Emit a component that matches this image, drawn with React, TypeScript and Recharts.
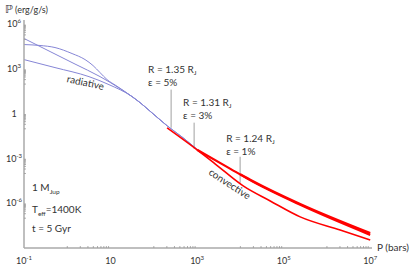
import React from "react";
import { LineChart, Line, XAxis, YAxis, ReferenceLine, ReferenceDot } from "recharts";

// P in bars, heating rate ℙ in erg/g/s
const radiative135 = [
  { p: 0.1, v: 1.15e5 },
  { p: 0.4, v: 1.53e4 },
  { p: 1.51, v: 2.21e3 },
  { p: 5.71, v: 318 },
  { p: 16.6, v: 49.7 },
  { p: 48.1, v: 5.7 },
  { p: 81.8, v: 1.52 },
  { p: 202, v: 0.161 },
];
const radiative131 = [
  { p: 0.1, v: 4.5e4 },
  { p: 0.234, v: 3.9e4 },
  { p: 0.52, v: 2.84e4 },
  { p: 1.29, v: 1.12e4 },
  { p: 2.57, v: 4.43e3 },
  { p: 3.94, v: 1.75e3 },
  { p: 5.71, v: 592 },
  { p: 8.3, v: 200 },
  { p: 13.4, v: 79 },
  { p: 31.4, v: 14.5 },
  { p: 48.1, v: 5.7 },
  { p: 81.8, v: 1.52 },
  { p: 202, v: 0.161 },
  { p: 474, v: 0.025 },
  { p: 1000, v: 4.2e-3 },
];
const radiative124 = [
  { p: 0.1, v: 4.4e3 },
  { p: 0.52, v: 1.28e3 },
  { p: 3.18, v: 316 },
  { p: 9.2, v: 92 },
  { p: 31.4, v: 14.5 },
  { p: 48.1, v: 5.7 },
  { p: 81.8, v: 1.52 },
  { p: 202, v: 0.161 },
  { p: 474, v: 0.025 },
  { p: 1000, v: 4.2e-3 },
  { p: 4.9e3, v: 2.8e-4 },
  { p: 9.9e3, v: 8.9e-5 },
];
const convective135 = [
  { p: 202, v: 0.117 },
  { p: 1000, v: 3.9e-3 },
  { p: 2.6e3, v: 4.5e-4 },
  { p: 1.16e4, v: 1.48e-5 },
  { p: 4.9e4, v: 1.44e-6 },
  { p: 2.41e5, v: 1.23e-7 },
  { p: 2.02e6, v: 1.62e-8 },
  { p: 1e7, v: 3.5e-9 },
];
const convective131 = [
  { p: 1000, v: 3.9e-3 },
  { p: 4.9e3, v: 2.8e-4 },
  { p: 1.97e4, v: 2.75e-5 },
  { p: 2.41e5, v: 7.9e-7 },
  { p: 1e7, v: 7.6e-9 },
];
const convective124 = [
  { p: 9.9e3, v: 8.9e-5 },
  { p: 1.97e4, v: 3.0e-5 },
  { p: 2.41e5, v: 8.9e-7 },
  { p: 1e7, v: 1.0e-8 },
];

const xMajorTicks = [0.1, 10, 1e3, 1e5, 1e7];
const xMajorLabels = [["10", "-1"], ["10", ""], ["10", "3"], ["10", "5"], ["10", "7"]];
const xMinorTicks = [
  1, 2, 3, 4, 5, 6, 7, 8, 9,
  100, 200, 300, 400, 500, 600, 700, 800, 900,
  1e4, 2e4, 3e4, 4e4, 5e4, 6e4, 7e4, 8e4, 9e4,
  1e6, 2e6, 3e6, 4e6, 5e6, 6e6, 7e6, 8e6, 9e6,
];
const yMajorTicks = [1e6, 1e3, 1, 1e-3, 1e-6];
const yMajorLabels = [["10", "6"], ["10", "3"], ["1", ""], ["10", "-3"], ["10", "-6"]];
const yMinorTicks = [
  1e5, 2e5, 3e5, 4e5, 5e5, 6e5, 7e5, 8e5, 9e5,
  1e2, 2e2, 3e2, 4e2, 5e2, 6e2, 7e2, 8e2, 9e2,
  0.1, 0.2, 0.3, 0.4, 0.5, 0.6, 0.7, 0.8, 0.9,
  1e-4, 2e-4, 3e-4, 4e-4, 5e-4, 6e-4, 7e-4, 8e-4, 9e-4,
  1e-7, 2e-7, 3e-7, 4e-7, 5e-7, 6e-7, 7e-7, 8e-7, 9e-7,
];

// annotations: radius label, efficiency, connector (P, top, bottom), label anchor (P, ℙ)
const notes = [
  { r: "1.35", eps: "5%", at: { p: 73.6, v: 592 }, line: { p: 251, top: 42.6, bottom: 0.118 } },
  { r: "1.31", eps: "3%", at: { p: 474, v: 3.57 }, line: { p: 853, top: 0.257, bottom: 4.6e-3 } },
  { r: "1.24", eps: "1%", at: { p: 4.69e3, v: 0.0136 }, line: { p: 9.86e3, top: 1.33e-3, bottom: 2.37e-5 } },
];

const FONT = "Lato, 'Open Sans', sans-serif";
const TEXT = "#333";
const AXIS = "#aaa";
const BLUE = "#8686d6";
const RED = "#ff0000";

const XTick = (props: any) => {
  const { x, y, payload } = props;
  const i = xMajorTicks.indexOf(payload.value);
  if (i < 0) {
    return <line x1={x} x2={x} y1={y} y2={y - 2} stroke="#999" strokeWidth={0.8} />;
  }
  const [b, e] = xMajorLabels[i];
  return (
    <text x={x} y={y + 16} textAnchor="middle" fontFamily={FONT} fontSize={9} fill={TEXT}>
      <tspan>{b}</tspan>
      {e ? <tspan dy={-4} fontSize={6}>{e}</tspan> : null}
    </text>
  );
};

const YTick = (props: any) => {
  const { x, y, payload } = props;
  const i = yMajorTicks.indexOf(payload.value);
  if (i < 0) {
    return <line x1={x} x2={x + 2} y1={y} y2={y} stroke="#999" strokeWidth={0.8} />;
  }
  const [b, e] = yMajorLabels[i];
  return (
    <text x={x - 10} y={y + 3} textAnchor="middle" fontFamily={FONT} fontSize={9} fill={TEXT}>
      <tspan>{b}</tspan>
      {e ? <tspan dy={-4} fontSize={6}>{e}</tspan> : null}
    </text>
  );
};

const noteLabel = (r: string, eps: string) => (lp: any) => {
  const vb = lp.viewBox || { x: 0, y: 0 };
  return (
    <text x={vb.x} y={vb.y} fontFamily={FONT} fontSize={10} fill={TEXT}>
      <tspan>{`R = ${r} R`}</tspan>
      <tspan dy={2.5} fontSize={6.5}>J</tspan>
      <tspan x={vb.x} dy={10.5}>{`ε = ${eps}`}</tspan>
    </text>
  );
};

const rotLabel = (txt: string, angle: number) => (lp: any) => {
  const vb = lp.viewBox || { x: 0, y: 0 };
  return (
    <text
      x={vb.x}
      y={vb.y}
      textAnchor="middle"
      dominantBaseline="middle"
      transform={`rotate(${angle}, ${vb.x}, ${vb.y})`}
      fontFamily={FONT}
      fontSize={10}
      fill={TEXT}
    >
      {txt}
    </text>
  );
};

export default function App() {
  return (
    <div style={{ position: "absolute", left: 0, top: 0, width: 416, height: 269, background: "#fff" }}>
      <LineChart width={416} height={269} margin={{ top: 20, right: 44, bottom: 0, left: 0 }}>
        <XAxis
          dataKey="p"
          type="number"
          scale="log"
          domain={[0.1, 1.1e7]}
          allowDataOverflow
          ticks={[...xMajorTicks, ...xMinorTicks]}
          interval={0}
          tickLine={false}
          tickSize={0}
          tickMargin={0}
          tick={<XTick />}
          height={21}
          axisLine={{ stroke: AXIS, strokeWidth: 1.5 }}
        />
        <YAxis
          dataKey="v"
          type="number"
          scale="log"
          domain={[1e-9, 2e6]}
          allowDataOverflow
          ticks={[...yMajorTicks, ...yMinorTicks]}
          interval={0}
          tickLine={false}
          tickSize={0}
          tickMargin={0}
          tick={<YTick />}
          width={24}
          axisLine={{ stroke: AXIS, strokeWidth: 1.5 }}
        />
        {notes.map((n, i) => (
          <ReferenceLine
            key={`l${i}`}
            segment={[
              { x: n.line.p, y: n.line.top },
              { x: n.line.p, y: n.line.bottom },
            ]}
            stroke="#888"
            strokeWidth={0.8}
          />
        ))}
        <Line data={radiative135} dataKey="v" type="monotone" stroke={BLUE} strokeWidth={1} dot={false} isAnimationActive={false} />
        <Line data={radiative131} dataKey="v" type="monotone" stroke={BLUE} strokeWidth={1} dot={false} isAnimationActive={false} />
        <Line data={radiative124} dataKey="v" type="monotone" stroke={BLUE} strokeWidth={1} dot={false} isAnimationActive={false} />
        <Line data={convective135} dataKey="v" type="monotone" stroke={RED} strokeWidth={1.6} dot={false} isAnimationActive={false} />
        <Line data={convective131} dataKey="v" type="monotone" stroke={RED} strokeWidth={2.2} dot={false} isAnimationActive={false} />
        <Line data={convective124} dataKey="v" type="monotone" stroke={RED} strokeWidth={2.2} dot={false} isAnimationActive={false} />
        {notes.map((n, i) => (
          <ReferenceDot key={`t${i}`} x={n.at.p} y={n.at.v} r={0} fill="none" stroke="none" label={noteLabel(n.r, n.eps)} />
        ))}
        <ReferenceDot x={2.6} y={108} r={0} fill="none" stroke="none" label={rotLabel("radiative", 12)} />
        <ReferenceDot x={5.5e3} y={1.74e-5} r={0} fill="none" stroke="none" label={rotLabel("convective", 33)} />
      </LineChart>
      <svg width={416} height={269} style={{ position: "absolute", left: 0, top: 0, pointerEvents: "none" }}>
        <text x={5} y={13} fontFamily={FONT} fill={TEXT}>
          <tspan fontFamily="'DejaVu Sans', sans-serif" fontSize={11}>ℙ</tspan>
          <tspan fontSize={9}> (erg/g/s)</tspan>
        </text>
        <text x={377} y={251} fontFamily={FONT} fontSize={10} fill={TEXT}>P (bars)</text>
        <text x={32} y={191} fontFamily={FONT} fontSize={10} fill={TEXT}>
          <tspan>1 M</tspan>
          <tspan dy={2.5} fontSize={6.5}>Jup</tspan>
        </text>
        <text x={32} y={213} fontFamily={FONT} fontSize={10} fill={TEXT}>
          <tspan>T</tspan>
          <tspan dy={2.5} fontSize={6.5}>eff</tspan>
          <tspan dy={-2.5}>=1400K</tspan>
        </text>
        <text x={32} y={232} fontFamily={FONT} fontSize={10} fill={TEXT}>t = 5 Gyr</text>
      </svg>
    </div>
  );
}
